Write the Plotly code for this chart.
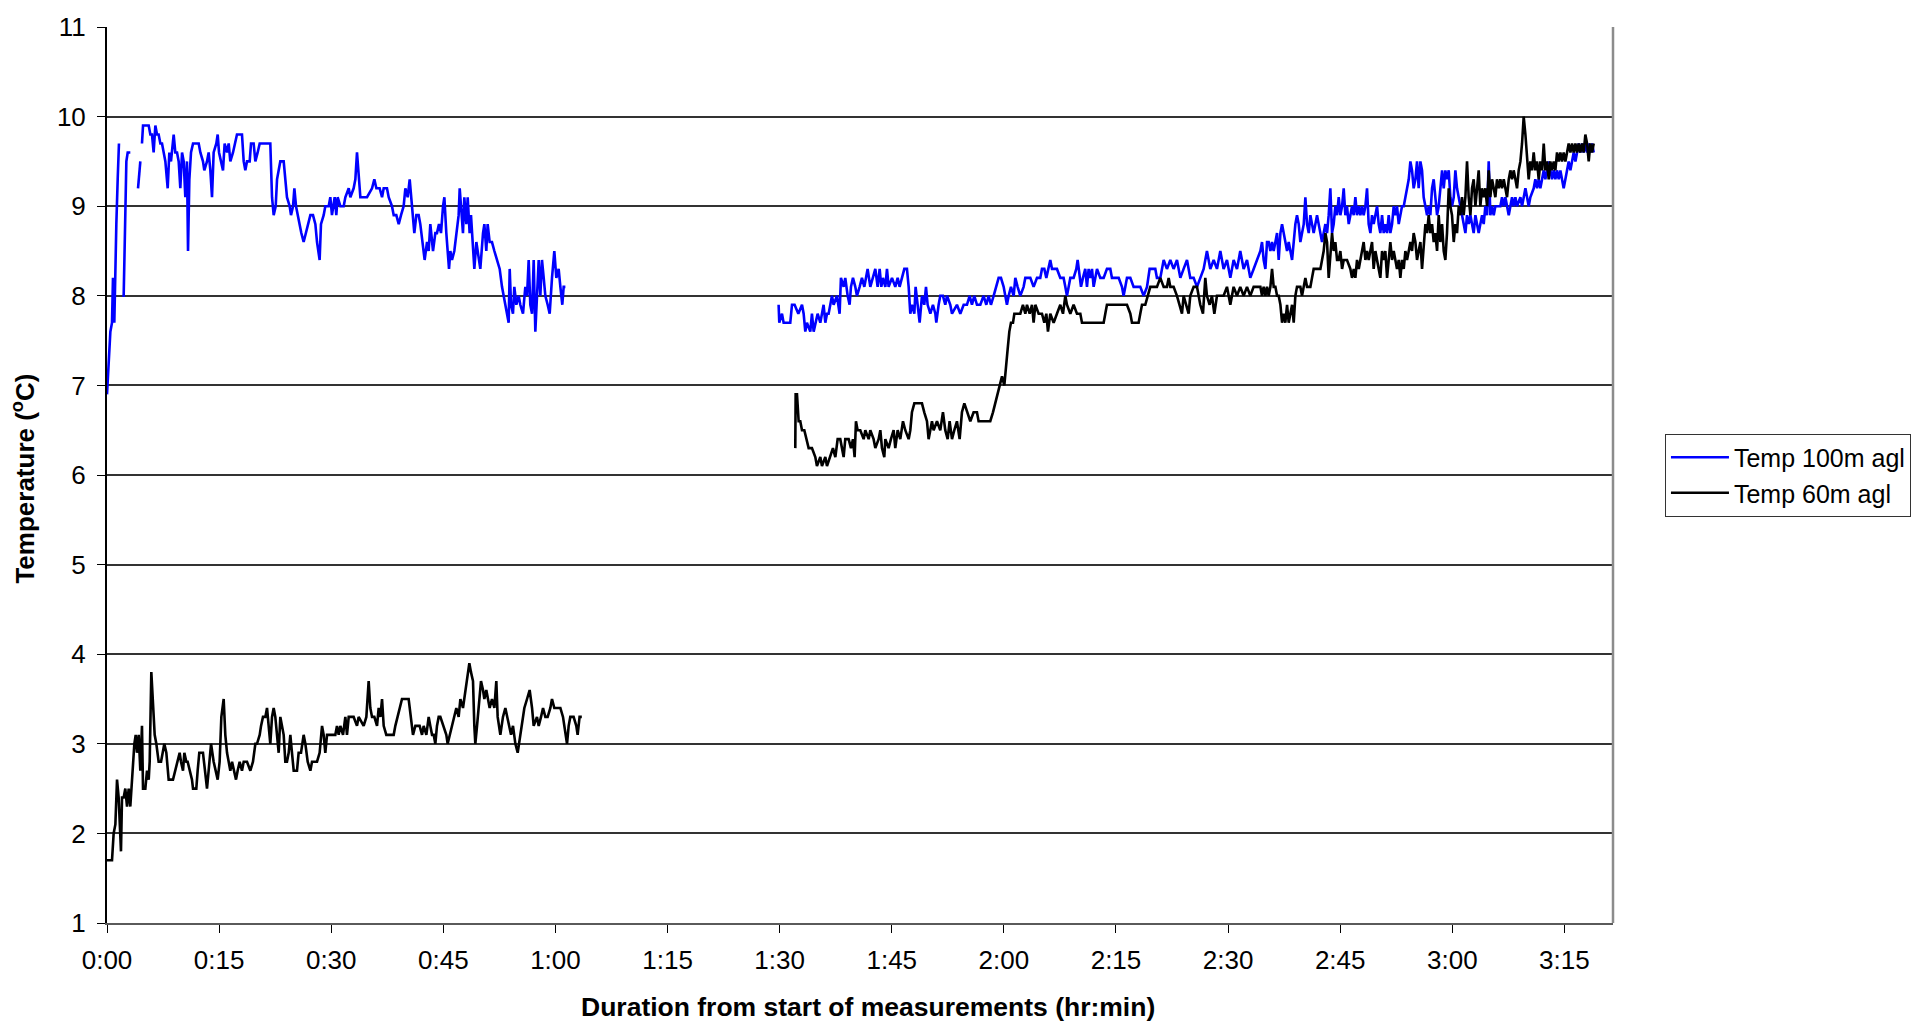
import plotly.graph_objects as go

# Axis ticks: minutes since the start of measurements, labelled as hr:min
tick_minutes = [0, 15, 30, 45, 60, 75, 90, 105, 120, 135, 150, 165, 180, 195]
tick_labels = ["0:00", "0:15", "0:30", "0:45", "1:00", "1:15", "1:30",
               "1:45", "2:00", "2:15", "2:30", "2:45", "3:00", "3:15"]
temp_ticks = [1, 2, 3, 4, 5, 6, 7, 8, 9, 10, 11]

# Temperature at 100 m agl: (minutes from start, deg C); None breaks the line
temp100_first_leg = [
    (0.00, 6.9), (0.22, 7.3), (0.45, 7.6), (0.67, 7.7), (0.80, 8.2), (0.98, 7.7), (1.07, 8.2), (1.25, 8.8),
    (1.43, 9.3), (1.60, 9.7), (1.80, None),
    (2.05, 8.0), (2.23, 8.0), (2.40, 8.7), (2.59, 9.5), (2.77, 9.6), (3.12, 9.6), (3.60, None),
    (4.15, 9.2), (4.46, 9.5), (4.57, None),
    (4.68, 9.7), (4.82, 9.9), (5.58, 9.9), (5.80, 9.8), (6.02, 9.8), (6.24, 9.6), (6.47, 9.9), (6.69, 9.8),
    (6.91, 9.8), (7.14, 9.7), (7.36, 9.7), (7.58, 9.6), (7.81, 9.5), (8.12, 9.2), (8.34, 9.6), (8.56, 9.5),
    (8.92, 9.8), (9.14, 9.6), (9.37, 9.6), (9.59, 9.5), (9.81, 9.2), (10.04, 9.6), (10.26, 9.5), (10.48, 9.1),
    (10.70, 9.5), (10.84, 8.5), (11.02, 9.3), (11.24, 9.6), (11.51, 9.7), (11.95, 9.7), (12.27, 9.7), (12.49, 9.6),
    (12.84, 9.5), (13.02, 9.4), (13.38, 9.5), (13.60, 9.6), (13.83, 9.4), (14.05, 9.1), (14.27, 9.6), (14.63, 9.7),
    (14.81, 9.8), (14.99, 9.6), (15.25, 9.5), (15.52, 9.4), (15.74, 9.7), (16.06, 9.6), (16.28, 9.7), (16.50, 9.5),
    (16.86, 9.6), (17.17, 9.7), (17.39, 9.8), (18.06, 9.8), (18.29, 9.5), (18.51, 9.4), (18.73, 9.5), (19.09, 9.5),
    (19.27, 9.7), (19.62, 9.7), (19.85, 9.5), (20.16, 9.6), (20.43, 9.7), (20.74, 9.7), (21.85, 9.7), (22.08, 9.1),
    (22.30, 8.9), (22.57, 9.0), (22.75, 9.3), (22.97, 9.4), (23.19, 9.5), (23.64, 9.5), (23.86, 9.3), (24.08, 9.1),
    (24.44, 9.0), (24.62, 8.9), (24.89, 9.0), (25.07, 9.2), (25.29, 9.0), (25.51, 8.9), (25.78, 8.8), (26.00, 8.7),
    (26.31, 8.6), (26.63, 8.7), (26.85, 8.8), (27.21, 8.9), (27.56, 8.9), (27.88, 8.8), (28.10, 8.6), (28.45, 8.4),
    (28.63, 8.8), (28.99, 8.9), (29.21, 9.0), (29.66, 9.0), (29.88, 9.1), (30.10, 8.9), (30.46, 9.1), (30.68, 8.9),
    (30.86, 9.1), (31.22, 9.0), (31.67, 9.0), (31.89, 9.1), (32.34, 9.2), (32.56, 9.1), (33.00, 9.2), (33.23, 9.3),
    (33.45, 9.6), (33.67, 9.3), (33.90, 9.1), (34.34, 9.1), (34.79, 9.1), (35.46, 9.2), (35.77, 9.3), (36.04, 9.2),
    (36.48, 9.2), (36.80, 9.1), (37.02, 9.2), (37.46, 9.2), (37.69, 9.1), (38.13, 9.0), (38.36, 8.9), (38.71, 8.9),
    (39.03, 8.8), (39.34, 8.9), (39.69, 9.0), (39.92, 9.2), (40.23, 9.1), (40.50, 9.3), (40.68, 9.1), (40.94, 8.8),
    (41.12, 8.7), (41.39, 8.9), (41.70, 8.9), (41.92, 8.8), (42.24, 8.6), (42.50, 8.4), (42.82, 8.6), (43.04, 8.5),
    (43.26, 8.8), (43.62, 8.5), (43.93, 8.7), (44.15, 8.7), (44.42, 8.8), (44.69, 8.7), (44.96, 9.0), (45.14, 9.1),
    (45.40, 8.7), (45.58, 8.5), (45.76, 8.3), (45.94, 8.5), (46.16, 8.4), (46.47, 8.5), (46.74, 8.7), (47.05, 8.9),
    (47.19, 9.2), (47.37, 9.0), (47.63, 8.7), (47.81, 9.1), (48.08, 8.8), (48.26, 9.1), (48.52, 8.7), (48.70, 8.9),
    (48.97, 8.6), (49.15, 8.3), (49.42, 8.6), (49.73, 8.4), (49.95, 8.3), (50.31, 8.7), (50.49, 8.8), (50.75, 8.5),
    (50.93, 8.8), (51.20, 8.6), (51.51, 8.6), (51.83, 8.5), (52.18, 8.4), (52.54, 8.3), (52.85, 8.1), (53.07, 8.0),
    (53.30, 7.9), (53.52, 7.8), (53.74, 7.7), (53.88, 8.3), (54.06, 7.9), (54.32, 7.8), (54.50, 8.1), (54.77, 7.9),
    (55.08, 8.0), (55.30, 7.9), (55.66, 7.8), (55.97, 8.1), (56.20, 8.0), (56.42, 8.4), (56.64, 7.9), (56.87, 7.8),
    (57.09, 8.4), (57.31, 7.6), (57.53, 8.1), (57.76, 8.4), (57.98, 8.0), (58.20, 8.4), (58.43, 8.2), (58.65, 8.0),
    (58.96, 7.9), (59.23, 7.8), (59.54, 8.2), (59.85, 8.5), (60.12, 8.2), (60.43, 8.3), (60.66, 8.1), (60.92, 7.9),
    (61.10, 8.1), (61.33, 8.1),
]

temp100_second_leg = [
    (89.86, 7.9), (89.95, 7.7), (90.31, 7.8), (90.53, 7.7), (91.42, 7.7), (91.65, 7.9), (92.00, 7.9), (92.50, 7.8),
    (92.99, 7.9), (93.21, 7.8), (93.43, 7.6), (93.65, 7.7), (94.10, 7.6), (94.32, 7.8), (94.55, 7.6), (94.77, 7.7),
    (95.08, 7.8), (95.44, 7.7), (95.88, 7.9), (96.11, 7.7), (96.33, 7.8), (96.55, 7.8), (96.78, 7.9), (97.00, 8.0),
    (97.22, 7.9), (97.67, 8.0), (98.02, 7.8), (98.20, 8.2), (98.56, 8.1), (98.78, 8.2), (99.10, 8.0), (99.36, 7.9),
    (99.54, 8.1), (99.81, 8.2), (100.12, 8.1), (100.34, 8.0), (100.70, 8.1), (101.01, 8.2), (101.33, 8.1), (101.59, 8.2),
    (101.77, 8.3), (102.13, 8.1), (102.48, 8.2), (102.80, 8.3), (103.11, 8.1), (103.38, 8.3), (103.60, 8.1), (103.82, 8.2),
    (104.14, 8.1), (104.36, 8.3), (104.58, 8.1), (105.03, 8.2), (105.47, 8.1), (105.79, 8.2), (106.05, 8.1), (106.37, 8.2),
    (106.68, 8.3), (107.03, 8.3), (107.26, 8.1), (107.48, 7.8), (107.70, 7.9), (108.02, 7.8), (108.19, 8.1), (108.46, 7.9),
    (108.73, 7.7), (109.04, 8.0), (109.35, 7.9), (109.58, 8.1), (109.80, 7.9), (110.16, 7.8), (110.51, 7.9), (110.83, 7.8),
    (110.96, 7.7), (111.27, 7.9), (111.49, 8.0), (111.85, 8.0), (112.16, 7.9), (112.39, 8.0), (112.83, 7.9), (113.06, 7.8),
    (113.72, 7.9), (114.17, 7.8), (114.62, 7.9), (115.06, 7.9), (115.42, 8.0), (115.73, 7.9), (116.04, 8.0), (116.40, 7.9),
    (116.85, 7.9), (117.29, 8.0), (117.65, 7.9), (117.96, 8.0), (118.27, 7.9), (118.63, 8.0), (118.99, 8.1), (119.30, 8.2),
    (119.61, 8.2), (119.97, 8.1), (120.19, 8.0), (120.41, 7.9), (120.64, 8.0), (120.95, 8.1), (121.31, 8.0), (121.53, 8.2),
    (121.84, 8.1), (122.20, 8.0), (122.64, 8.1), (122.87, 8.2), (123.54, 8.2), (123.98, 8.1), (124.43, 8.2), (124.87, 8.2),
    (125.10, 8.3), (125.41, 8.3), (125.68, 8.2), (125.99, 8.3), (126.21, 8.4), (126.44, 8.3), (127.10, 8.3), (127.55, 8.2),
    (127.99, 8.2), (128.22, 8.1), (128.44, 8.0), (128.67, 8.1), (128.89, 8.2), (129.33, 8.2), (129.69, 8.3), (129.87, 8.4),
    (130.14, 8.2), (130.32, 8.1), (130.58, 8.2), (130.89, 8.3), (131.12, 8.1), (131.34, 8.3), (131.56, 8.2), (131.79, 8.3),
    (132.01, 8.1), (132.46, 8.3), (132.90, 8.2), (133.35, 8.2), (133.79, 8.3), (134.24, 8.3), (134.46, 8.2), (134.91, 8.2),
    (135.36, 8.2), (135.80, 8.1), (136.02, 8.0), (136.25, 8.1), (136.47, 8.2), (136.92, 8.2), (137.36, 8.1), (137.81, 8.1),
    (138.25, 8.1), (138.70, 8.0), (139.15, 8.1), (139.50, 8.3), (139.82, 8.3), (140.26, 8.3), (140.48, 8.2), (140.93, 8.2),
    (141.38, 8.4), (141.82, 8.3), (142.27, 8.4), (142.71, 8.3), (143.16, 8.4), (143.61, 8.2), (144.05, 8.3), (144.50, 8.4),
    (144.94, 8.2), (145.39, 8.2), (145.84, 8.1), (146.28, 8.2), (146.73, 8.3), (147.17, 8.5), (147.62, 8.3), (148.07, 8.4),
    (148.51, 8.3), (148.96, 8.5), (149.40, 8.3), (149.85, 8.4), (150.30, 8.2), (150.74, 8.4), (151.19, 8.3), (151.63, 8.5),
    (152.08, 8.3), (152.53, 8.4), (152.97, 8.2), (153.42, 8.3), (153.86, 8.4), (154.32, 8.5), (154.54, 8.6), (154.76, 8.4),
    (154.99, 8.3), (155.21, 8.6), (155.43, 8.6), (155.66, 8.5), (155.88, 8.6), (156.10, 8.5), (156.33, 8.6), (156.55, 8.7),
    (156.77, 8.4), (157.00, 8.7), (157.22, 8.8), (157.44, 8.7), (157.66, 8.6), (157.89, 8.5), (158.11, 8.6), (158.33, 8.5),
    (158.56, 8.4), (158.78, 8.6), (159.00, 8.8), (159.22, 8.9), (159.45, 8.8), (159.67, 8.6), (159.89, 8.7), (160.12, 8.8),
    (160.34, 9.1), (160.56, 8.8), (160.79, 8.7), (161.01, 8.9), (161.23, 8.8), (161.45, 8.7), (161.68, 8.8), (161.90, 8.9),
    (162.12, 8.8), (162.35, 8.7), (162.57, 8.6), (162.79, 8.7), (163.02, 8.8), (163.24, 8.7), (163.46, 8.9), (163.68, 9.2),
    (163.91, 8.7), (164.13, 8.8), (164.35, 9.0), (164.58, 8.9), (164.80, 9.1), (165.02, 8.9), (165.25, 9.0), (165.47, 9.2),
    (165.69, 8.9), (165.91, 9.0), (166.14, 8.8), (166.36, 8.9), (166.58, 9.0), (166.81, 8.9), (167.03, 9.1), (167.25, 8.9),
    (167.48, 9.0), (167.70, 8.9), (167.92, 9.0), (168.14, 8.9), (168.37, 9.0), (168.59, 9.2), (168.81, 8.8), (169.04, 8.7),
    (169.26, 8.9), (169.48, 8.8), (169.71, 8.9), (169.93, 9.0), (170.15, 8.8), (170.37, 8.7), (170.60, 8.9), (170.82, 8.7),
    (171.04, 8.8), (171.27, 8.7), (171.49, 8.9), (171.71, 8.7), (171.94, 8.8), (172.16, 9.0), (172.38, 8.9), (172.60, 9.0),
    (172.83, 8.8), (173.05, 8.9), (173.27, 9.0), (173.50, 9.0), (173.72, 9.1), (173.94, 9.2), (174.17, 9.3), (174.39, 9.5),
    (174.61, 9.4), (174.83, 9.2), (175.06, 9.3), (175.28, 9.5), (175.50, 9.2), (175.73, 9.5), (175.95, 9.4), (176.17, 9.1),
    (176.40, 9.0), (176.62, 8.9), (176.84, 9.0), (177.06, 8.9), (177.29, 9.2), (177.51, 9.3), (177.73, 9.1), (177.96, 8.9),
    (178.18, 9.0), (178.40, 9.2), (178.63, 9.4), (178.85, 9.2), (179.07, 9.4), (179.29, 9.3), (179.52, 9.4), (179.74, 9.1),
    (179.96, 9.0), (180.19, 9.1), (180.41, 9.4), (180.63, 9.2), (180.86, 9.1), (181.08, 9.0), (181.30, 8.9), (181.52, 8.8),
    (181.75, 8.7), (181.97, 8.9), (182.19, 8.8), (182.42, 8.9), (182.64, 8.8), (182.86, 8.7), (183.09, 8.9), (183.31, 8.8),
    (183.53, 8.7), (183.75, 8.8), (183.98, 8.9), (184.20, 8.8), (184.42, 9.0), (184.65, 8.9), (184.87, 9.5), (185.09, 8.9),
    (185.32, 9.0), (185.54, 8.9), (185.76, 9.0), (185.98, 9.0), (186.43, 9.0), (186.65, 9.1), (186.88, 9.0), (187.10, 9.1),
    (187.32, 9.0), (187.55, 8.9), (187.77, 9.0), (187.99, 9.1), (188.21, 9.0), (188.44, 9.1), (188.66, 9.0), (189.11, 9.1),
    (189.33, 9.0), (189.55, 9.1), (189.78, 9.2), (190.00, 9.1), (190.22, 9.0), (190.44, 9.1), (190.89, 9.2), (191.11, 9.3),
    (191.34, 9.2), (191.56, 9.3), (191.78, 9.2), (192.01, 9.3), (192.23, 9.4), (192.45, 9.3), (192.67, 9.4), (192.90, 9.5),
    (193.12, 9.4), (193.34, 9.3), (193.57, 9.4), (193.79, 9.3), (194.01, 9.4), (194.24, 9.3), (194.46, 9.4), (194.68, 9.3),
    (194.90, 9.2), (195.13, 9.3), (195.35, 9.4), (195.57, 9.5), (195.80, 9.4), (196.02, 9.5), (196.24, 9.6), (196.47, 9.5),
    (196.69, 9.6), (196.91, 9.7), (197.13, 9.6), (197.36, 9.7), (197.58, 9.6), (197.80, 9.7), (198.03, 9.6), (198.25, 9.7),
    (198.47, 9.6), (198.70, 9.7), (198.92, 9.6),
]

# Temperature at 60 m agl: (minutes from start, deg C)
temp60_first_leg = [
    (0.00, 1.7), (0.67, 1.7), (0.89, 2.0), (1.12, 2.1), (1.34, 2.6), (1.56, 2.4), (1.87, 1.8), (2.01, 2.4),
    (2.23, 2.4), (2.45, 2.5), (2.68, 2.3), (2.90, 2.5), (3.12, 2.3), (3.35, 2.6), (3.48, 2.8), (3.66, 3.0),
    (3.84, 3.1), (4.01, 2.9), (4.24, 3.1), (4.46, 2.7), (4.68, 3.2), (4.82, 2.5), (5.13, 2.5), (5.35, 2.7),
    (5.58, 2.6), (5.71, 2.8), (5.93, 3.8), (6.15, 3.5), (6.38, 3.1), (6.60, 3.0), (6.91, 2.8), (7.23, 2.8),
    (7.49, 2.9), (7.67, 3.0), (7.94, 2.9), (8.25, 2.6), (8.83, 2.6), (9.14, 2.7), (9.46, 2.8), (9.72, 2.9),
    (9.90, 2.8), (10.17, 2.7), (10.35, 2.9), (10.61, 2.8), (10.79, 2.8), (11.06, 2.7), (11.37, 2.6), (11.51, 2.5),
    (11.95, 2.5), (12.13, 2.7), (12.35, 2.9), (12.84, 2.9), (13.16, 2.7), (13.38, 2.5), (13.60, 2.7), (13.92, 3.0),
    (14.27, 2.8), (14.50, 2.7), (14.81, 2.6), (15.07, 2.8), (15.30, 3.3), (15.61, 3.5), (15.83, 3.1), (16.06, 2.9),
    (16.28, 2.8), (16.50, 2.7), (16.73, 2.8), (16.95, 2.7), (17.26, 2.6), (17.48, 2.7), (17.75, 2.8), (18.06, 2.7),
    (18.29, 2.8), (18.73, 2.8), (19.18, 2.7), (19.53, 2.8), (19.85, 3.0), (20.07, 3.0), (20.43, 3.1), (20.61, 3.2),
    (20.87, 3.3), (21.19, 3.3), (21.41, 3.4), (21.63, 3.2), (21.85, 3.0), (22.08, 3.3), (22.30, 3.4), (22.52, 3.3),
    (22.75, 3.1), (22.97, 2.9), (23.19, 3.3), (23.42, 3.2), (23.64, 3.1), (23.86, 2.8), (24.08, 2.8), (24.31, 2.9),
    (24.53, 3.1), (24.75, 2.9), (24.98, 2.7), (25.42, 2.7), (25.64, 2.9), (25.96, 2.9), (26.31, 3.1), (26.54, 3.0),
    (26.85, 2.8), (27.21, 2.7), (27.43, 2.8), (28.10, 2.8), (28.45, 2.9), (28.77, 3.2), (28.99, 3.1), (29.21, 2.9),
    (29.44, 3.1), (29.79, 3.1), (30.55, 3.1), (30.77, 3.2), (31.00, 3.1), (31.22, 3.2), (31.58, 3.1), (31.89, 3.3),
    (32.11, 3.1), (32.34, 3.3), (33.00, 3.3), (33.45, 3.2), (33.67, 3.3), (34.34, 3.2), (34.70, 3.3), (35.01, 3.7),
    (35.23, 3.4), (35.46, 3.3), (35.77, 3.3), (36.13, 3.2), (36.35, 3.4), (36.58, 3.3), (36.80, 3.5), (37.02, 3.2),
    (37.37, 3.1), (37.69, 3.1), (38.36, 3.1), (38.58, 3.2), (38.89, 3.3), (39.16, 3.4), (39.47, 3.5), (40.36, 3.5),
    (40.68, 3.3), (40.94, 3.1), (41.26, 3.2), (41.83, 3.2), (42.15, 3.1), (42.37, 3.2), (42.73, 3.1), (43.04, 3.3),
    (43.26, 3.2), (43.49, 3.1), (43.71, 3.1), (43.93, 3.0), (44.15, 3.2), (44.38, 3.3), (44.60, 3.3), (44.96, 3.2),
    (45.40, 3.1), (45.58, 3.0), (45.85, 3.1), (46.16, 3.2), (46.47, 3.3), (46.74, 3.4), (47.05, 3.3), (47.28, 3.5),
    (47.63, 3.4), (47.95, 3.6), (48.26, 3.8), (48.48, 3.9), (48.70, 3.8), (48.97, 3.7), (49.15, 3.2), (49.28, 3.0),
    (49.51, 3.2), (49.73, 3.4), (50.04, 3.7), (50.31, 3.6), (50.49, 3.5), (50.75, 3.6), (50.93, 3.5), (51.20, 3.4),
    (51.51, 3.5), (51.83, 3.4), (52.09, 3.7), (52.27, 3.3), (52.63, 3.1), (52.98, 3.3), (53.30, 3.4), (53.74, 3.2),
    (54.06, 3.1), (54.32, 3.2), (54.64, 3.0), (54.95, 2.9), (55.31, 3.1), (55.66, 3.3), (55.84, 3.4), (56.20, 3.5),
    (56.55, 3.6), (56.87, 3.4), (57.09, 3.2), (57.53, 3.3), (57.76, 3.2), (58.07, 3.3), (58.34, 3.4), (58.65, 3.3),
    (58.96, 3.3), (59.32, 3.4), (59.54, 3.5), (59.85, 3.4), (60.21, 3.4), (60.66, 3.4), (61.01, 3.3), (61.33, 3.1),
    (61.55, 3.0), (61.77, 3.2), (61.99, 3.3), (62.43, 3.3), (62.79, 3.2), (62.97, 3.1), (63.23, 3.3), (63.53, 3.3),
]

temp60_second_leg = [
    (92.09, 6.3), (92.14, 6.9), (92.32, 6.9), (92.54, 6.6), (92.76, 6.6), (92.99, 6.5), (93.30, 6.5), (93.56, 6.4),
    (93.88, 6.3), (94.32, 6.3), (94.77, 6.2), (94.99, 6.1), (95.44, 6.2), (95.66, 6.1), (96.11, 6.2), (96.33, 6.1),
    (96.78, 6.2), (97.13, 6.3), (97.45, 6.2), (97.76, 6.4), (98.11, 6.4), (98.34, 6.3), (98.56, 6.2), (98.78, 6.4),
    (99.23, 6.4), (99.54, 6.3), (99.81, 6.4), (100.03, 6.2), (100.21, 6.6), (100.43, 6.5), (100.79, 6.5), (101.24, 6.4),
    (101.46, 6.5), (101.91, 6.4), (102.13, 6.5), (102.57, 6.4), (102.80, 6.3), (103.24, 6.4), (103.47, 6.5), (103.69, 6.3),
    (104.00, 6.2), (104.14, 6.4), (104.58, 6.3), (104.89, 6.4), (105.25, 6.5), (105.47, 6.3), (105.79, 6.5), (106.14, 6.4),
    (106.50, 6.6), (106.81, 6.5), (107.26, 6.4), (107.48, 6.5), (107.70, 6.7), (108.02, 6.8), (108.37, 6.8), (109.04, 6.8),
    (109.35, 6.7), (109.71, 6.6), (109.93, 6.4), (110.16, 6.5), (110.38, 6.6), (110.60, 6.5), (111.05, 6.6), (111.49, 6.5),
    (111.85, 6.7), (112.16, 6.5), (112.48, 6.4), (112.74, 6.6), (113.06, 6.4), (113.37, 6.5), (113.72, 6.6), (114.08, 6.4),
    (114.39, 6.7), (114.71, 6.8), (115.06, 6.7), (115.51, 6.6), (115.95, 6.7), (116.40, 6.7), (116.62, 6.6), (117.07, 6.6),
    (117.74, 6.6), (118.18, 6.6), (118.54, 6.7), (118.85, 6.8), (119.08, 6.9), (119.43, 7.0), (119.75, 7.1), (120.06, 7.0),
    (120.32, 7.2), (120.50, 7.4), (120.73, 7.6), (120.95, 7.7), (121.22, 7.7), (121.40, 7.8), (121.75, 7.8), (122.20, 7.8),
    (122.55, 7.9), (122.87, 7.8), (123.09, 7.9), (123.45, 7.8), (123.76, 7.9), (123.98, 7.7), (124.21, 7.9), (124.65, 7.8),
    (125.10, 7.8), (125.41, 7.7), (125.68, 7.8), (125.90, 7.6), (126.21, 7.8), (126.66, 7.7), (127.10, 7.8), (127.55, 7.9),
    (127.91, 7.8), (128.22, 8.0), (128.44, 7.9), (128.89, 7.8), (129.33, 7.9), (129.78, 7.8), (130.23, 7.8), (130.45, 7.7),
    (130.89, 7.7), (131.34, 7.7), (132.01, 7.7), (132.46, 7.7), (132.90, 7.7), (133.35, 7.7), (133.57, 7.8), (133.79, 7.9),
    (134.24, 7.9), (134.69, 7.9), (135.13, 7.9), (135.58, 7.9), (136.02, 7.9), (136.47, 7.9), (136.92, 7.8), (137.14, 7.7),
    (137.59, 7.7), (138.03, 7.7), (138.25, 7.8), (138.48, 7.9), (138.92, 7.9), (139.24, 8.0), (139.59, 8.1), (140.04, 8.1),
    (140.48, 8.1), (140.93, 8.2), (141.38, 8.1), (141.82, 8.1), (142.05, 8.2), (142.27, 8.1), (142.71, 8.1), (143.16, 8.0),
    (143.52, 7.9), (143.83, 7.8), (144.05, 8.0), (144.41, 7.9), (144.72, 7.8), (144.94, 8.0), (145.39, 8.1), (145.84, 8.1),
    (146.28, 7.9), (146.64, 7.8), (146.95, 8.2), (147.17, 8.0), (147.53, 7.9), (147.84, 8.0), (148.16, 7.8), (148.51, 8.0),
    (148.96, 8.0), (149.40, 8.0), (149.85, 8.1), (150.30, 7.9), (150.74, 8.1), (151.19, 8.0), (151.63, 8.1), (152.08, 8.0),
    (152.53, 8.1), (152.97, 8.0), (153.42, 8.1), (153.86, 8.1), (154.32, 8.1), (154.54, 8.0), (154.76, 8.1), (154.99, 8.0),
    (155.21, 8.1), (155.43, 8.0), (155.66, 8.1), (155.88, 8.3), (156.10, 8.1), (156.33, 8.1), (156.55, 8.0), (156.77, 8.0),
    (157.00, 7.9), (157.22, 7.7), (157.44, 7.8), (157.66, 7.7), (157.89, 7.9), (158.11, 7.7), (158.33, 7.8), (158.56, 7.9),
    (158.78, 7.7), (159.00, 8.0), (159.22, 8.1), (159.67, 8.1), (159.89, 8.0), (160.12, 8.1), (160.34, 8.2), (160.56, 8.1),
    (161.01, 8.1), (161.23, 8.2), (161.45, 8.3), (161.90, 8.3), (162.35, 8.3), (162.57, 8.4), (162.79, 8.5), (163.02, 8.7),
    (163.24, 8.6), (163.46, 8.2), (163.68, 8.5), (163.91, 8.7), (164.13, 8.5), (164.35, 8.6), (164.58, 8.4), (164.80, 8.4),
    (165.02, 8.5), (165.25, 8.3), (165.47, 8.4), (165.91, 8.4), (166.36, 8.3), (166.58, 8.2), (166.81, 8.3), (167.03, 8.2),
    (167.25, 8.4), (167.48, 8.3), (167.70, 8.4), (167.92, 8.5), (168.14, 8.6), (168.37, 8.4), (168.59, 8.5), (168.81, 8.4),
    (169.04, 8.5), (169.26, 8.6), (169.48, 8.3), (169.71, 8.5), (169.93, 8.4), (170.15, 8.3), (170.37, 8.2), (170.60, 8.5),
    (170.82, 8.4), (171.04, 8.5), (171.27, 8.2), (171.49, 8.4), (171.71, 8.6), (171.94, 8.4), (172.16, 8.5), (172.38, 8.4),
    (172.60, 8.3), (172.83, 8.4), (173.05, 8.2), (173.27, 8.4), (173.50, 8.3), (173.72, 8.5), (173.94, 8.4), (174.17, 8.5),
    (174.39, 8.6), (174.61, 8.5), (174.83, 8.7), (175.06, 8.6), (175.28, 8.4), (175.50, 8.5), (175.73, 8.6), (175.95, 8.3),
    (176.17, 8.6), (176.40, 8.8), (176.62, 8.7), (176.84, 8.9), (177.06, 8.7), (177.29, 8.8), (177.51, 8.6), (177.73, 8.7),
    (177.96, 8.5), (178.18, 8.9), (178.40, 8.6), (178.63, 8.8), (178.85, 8.5), (179.07, 8.4), (179.29, 8.7), (179.52, 9.2),
    (179.74, 9.0), (179.96, 8.9), (180.19, 8.6), (180.41, 8.8), (180.63, 8.7), (180.86, 9.0), (181.08, 8.9), (181.30, 9.1),
    (181.52, 8.9), (181.75, 9.1), (181.97, 9.5), (182.19, 9.1), (182.42, 8.9), (182.64, 9.2), (182.86, 9.3), (183.09, 9.0),
    (183.31, 9.2), (183.53, 9.4), (183.75, 9.0), (183.98, 9.2), (184.20, 9.1), (184.42, 9.2), (184.65, 9.0), (184.87, 9.4),
    (185.09, 9.1), (185.32, 9.3), (185.54, 9.2), (185.76, 9.1), (185.98, 9.3), (186.21, 9.2), (186.43, 9.3), (186.65, 9.2),
    (186.88, 9.3), (187.10, 9.2), (187.32, 9.1), (187.55, 9.3), (187.77, 9.4), (187.99, 9.3), (188.21, 9.4), (188.44, 9.3),
    (188.66, 9.2), (188.88, 9.4), (189.11, 9.5), (189.33, 9.7), (189.55, 10.0), (189.78, 9.8), (190.00, 9.5), (190.22, 9.3),
    (190.44, 9.5), (190.67, 9.4), (190.89, 9.6), (191.11, 9.4), (191.34, 9.5), (191.56, 9.3), (191.78, 9.5), (192.01, 9.4),
    (192.23, 9.7), (192.45, 9.4), (192.67, 9.5), (192.90, 9.3), (193.12, 9.5), (193.34, 9.4), (193.57, 9.5), (193.79, 9.4),
    (194.01, 9.6), (194.24, 9.5), (194.46, 9.6), (194.68, 9.5), (194.90, 9.6), (195.13, 9.5), (195.35, 9.6), (195.57, 9.7),
    (195.80, 9.6), (196.02, 9.7), (196.24, 9.6), (196.47, 9.7), (196.69, 9.6), (196.91, 9.7), (197.13, 9.6), (197.36, 9.7),
    (197.58, 9.6), (197.80, 9.8), (198.03, 9.7), (198.25, 9.5), (198.47, 9.7), (198.70, 9.6), (198.92, 9.7),
]


def join_legs(*legs):
    """Concatenate measurement legs, leaving a break in the line between them."""
    minutes, temps = [], []
    for i, leg in enumerate(legs):
        if i:
            minutes.append(None)
            temps.append(None)
        for t, v in leg:
            minutes.append(t)
            temps.append(v)
    return minutes, temps


t100, v100 = join_legs(temp100_first_leg, temp100_second_leg)
t60, v60 = join_legs(temp60_first_leg, temp60_second_leg)

FONT = "Arial, Liberation Sans, sans-serif"

fig = go.Figure()
fig.add_trace(go.Scatter(x=t100, y=v100, mode="lines", name="Temp 100m agl",
                         line=dict(color="#0000FF", width=2.6)))
fig.add_trace(go.Scatter(x=t60, y=v60, mode="lines", name="Temp 60m agl",
                         line=dict(color="#000000", width=2.6)))

fig.update_layout(
    width=1925, height=1024, autosize=False,
    margin=dict(l=107, r=312, t=19, b=101),
    paper_bgcolor="white", plot_bgcolor="white",
    font=dict(family=FONT, size=26, color="black"),
    showlegend=True,
    legend=dict(x=1.0345, xanchor="left", y=0.5, yanchor="middle",
                bgcolor="white", bordercolor="#333333", borderwidth=1,
                itemwidth=58,
                font=dict(family=FONT, size=25, color="black")),
    annotations=[
        dict(text="<b>Duration from start of measurements (hr:min)</b>",
             xref="paper", yref="paper", x=0.5053, y=-0.094,
             xanchor="center", yanchor="middle", showarrow=False,
             font=dict(family=FONT, size=26.5, color="black")),
        dict(text="<b>Temperature (<sup>o</sup>C)</b>",
             xref="paper", yref="paper", x=-0.0551, y=0.496, textangle=-90,
             xanchor="center", yanchor="middle", showarrow=False,
             font=dict(family=FONT, size=26, color="black")),
    ],
    shapes=[
        dict(type="line", xref="paper", yref="paper", x0=1, x1=1, y0=0, y1=1,
             line=dict(color="#8c8c8c", width=2.5)),
    ],
)

fig.update_xaxes(
    range=[0, 201.5], tickmode="array", tickvals=tick_minutes, ticktext=tick_labels,
    ticks="outside", ticklen=8, tickwidth=1, tickcolor="black",
    showline=True, linecolor="#5a5a5a", linewidth=2,
    showgrid=False, zeroline=False, ticklabelstandoff=5,
    tickfont=dict(family=FONT, size=26, color="black"),
)
fig.update_yaxes(
    range=[1, 11], tickmode="array", tickvals=temp_ticks,
    ticks="outside", ticklen=8, tickwidth=1, tickcolor="black",
    showline=True, linecolor="black", linewidth=2,
    showgrid=True, gridcolor="#333333", gridwidth=1.5,
    zeroline=False, ticklabelstandoff=6,
    tickfont=dict(family=FONT, size=26, color="black"),
)

fig.write_html("out.html")
